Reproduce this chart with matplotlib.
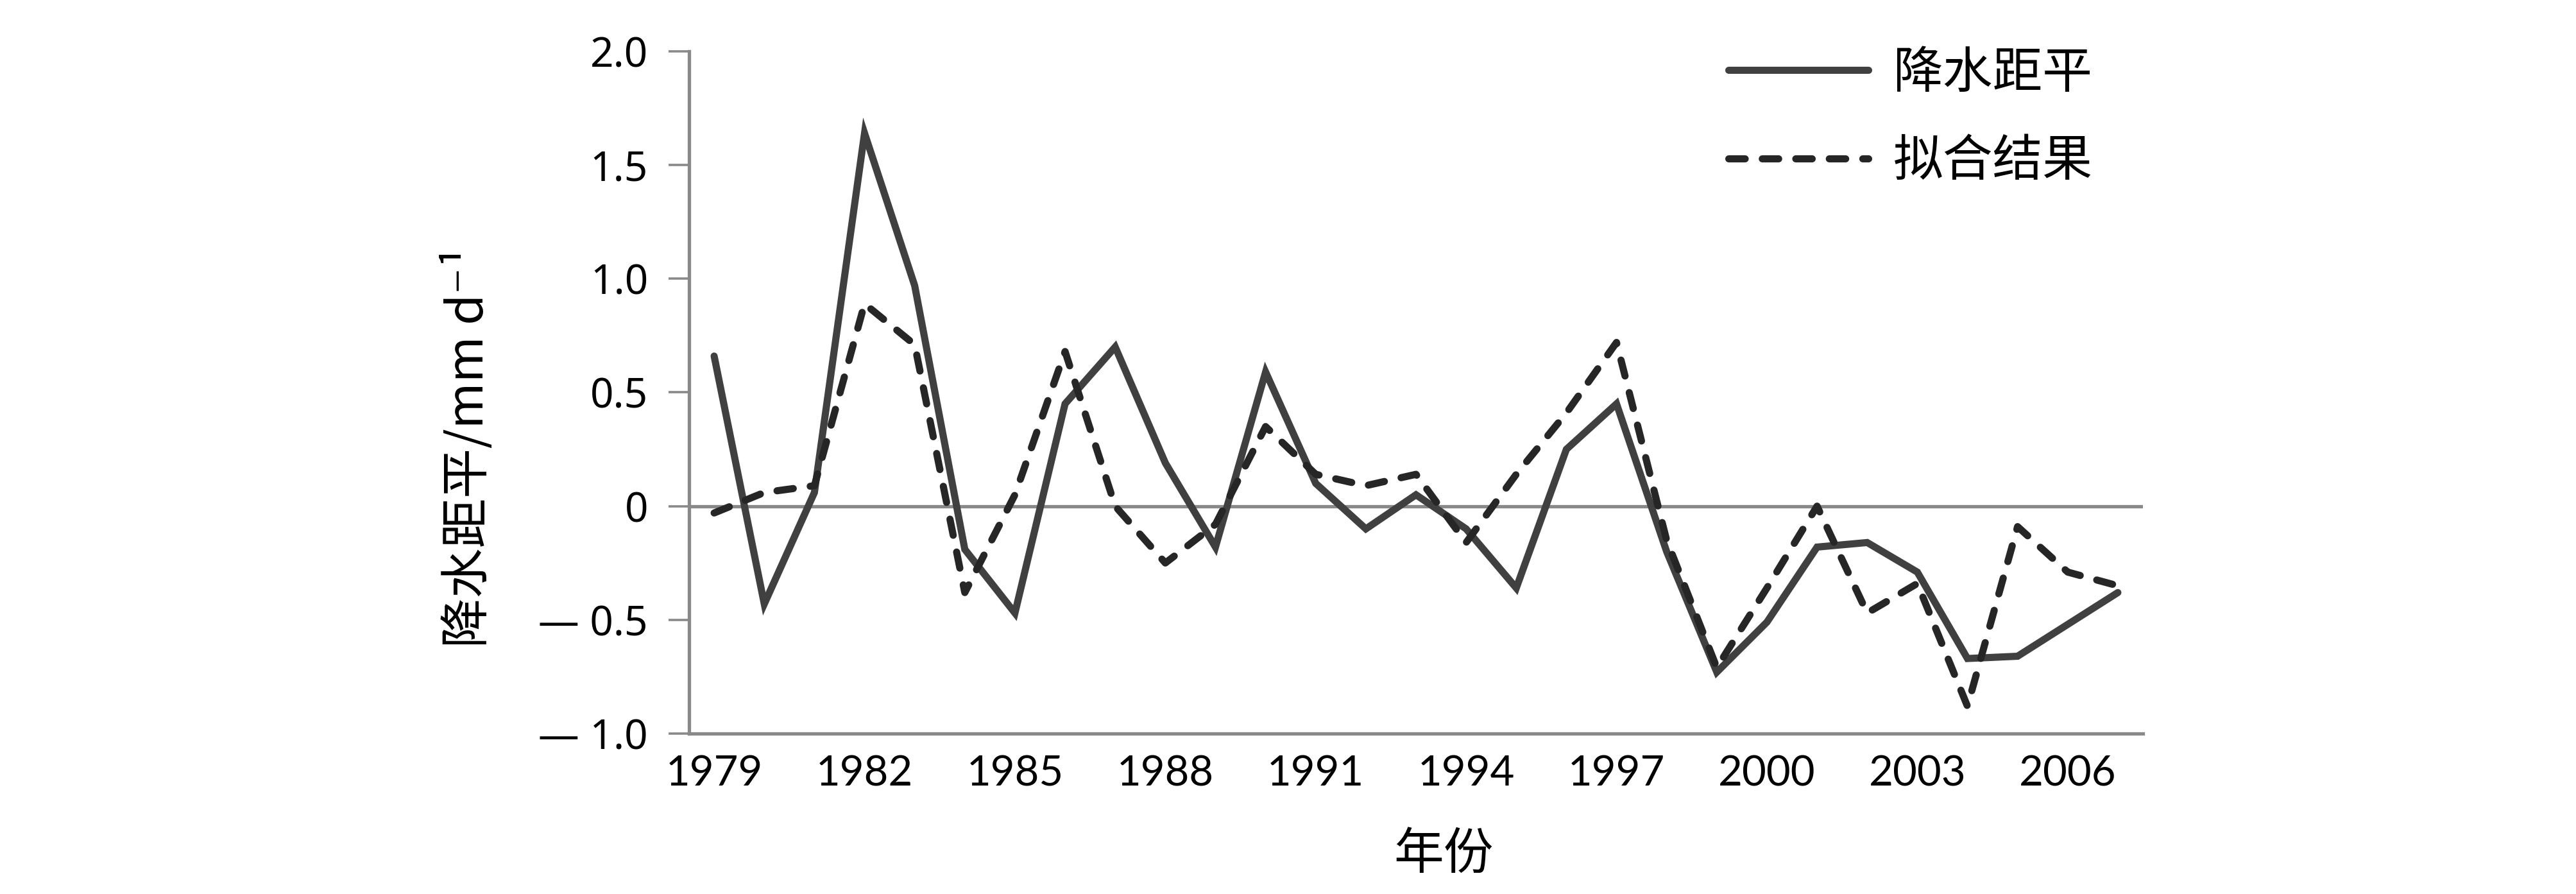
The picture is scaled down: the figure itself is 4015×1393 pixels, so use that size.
import numpy as np
import matplotlib
matplotlib.use("Agg")
import matplotlib.pyplot as plt

# data
years = np.arange(1979, 2008)
anomaly = [0.66, -0.43, 0.06, 1.64, 0.97, -0.19, -0.47, 0.45, 0.70, 0.19,
           -0.18, 0.59, 0.10, -0.10, 0.05, -0.10, -0.36, 0.25, 0.45, -0.20,
           -0.73, -0.51, -0.18, -0.16, -0.29, -0.67, -0.66, -0.52, -0.38]
fitted = [-0.03, 0.06, 0.09, 0.89, 0.71, -0.38, 0.05, 0.68, 0.00, -0.25,
          -0.08, 0.35, 0.14, 0.09, 0.14, -0.16, 0.14, 0.41, 0.72, -0.15,
          -0.71, -0.36, 0.00, -0.47, -0.34, -0.88, -0.09, -0.29, -0.35]
xtick_years = list(range(1979, 2007, 3))
yticks = [2.0, 1.5, 1.0, 0.5, 0, -0.5, -1.0]
ytick_labels = ["2.0", "1.5", "1.0", "0.5", "0", "\u2014 0.5", "\u2014 1.0"]
series_names = ["降水距平", "拟合结果"]

cjk = ["Noto Sans CJK SC", "DejaVu Sans"]
gray = "#898989"

fig = plt.figure(figsize=(40.16, 13.93), dpi=100)
ax = fig.add_axes([1074 / 4016, 1 - 1143 / 1393, 2266 / 4016, 1063 / 1393])

ax.axhline(0, color=gray, linewidth=3.8, zorder=1)
ax.plot(years, anomaly, color="#404040", linewidth=8,
        solid_joinstyle="miter", solid_capstyle="round", label=series_names[0], zorder=3)
ax.plot(years, fitted, color="#262626", linewidth=8, linestyle=(0, (2.3, 2.4)),
        dash_capstyle="round", label=series_names[1], zorder=4)

ax.set_xlim(1978.5, 2007.5)
ax.set_ylim(-1.0, 2.0)

for side in ["top", "right"]:
    ax.spines[side].set_visible(False)
for side in ["left", "bottom"]:
    ax.spines[side].set_color(gray)
    ax.spines[side].set_linewidth(3.8)

ax.set_xticks(xtick_years)
ax.set_xticklabels([str(y) for y in xtick_years], family="Lato", fontsize=47)
ax.tick_params(axis="x", length=0, pad=24)

ax.set_yticks(yticks)
ax.set_yticklabels(ytick_labels, family=["Noto Sans", "DejaVu Sans"], fontsize=46)
ax.tick_params(axis="y", length=23, width=2.6, color=gray, pad=23)

fig.text(730 / 4016, 1 - 697 / 1393, "降水距平/mm d\u207b\u00b9", rotation=90,
         ha="center", va="center", family=cjk, fontsize=56)
fig.text(2250 / 4016, 1 - 1332 / 1393, "年份", ha="center", va="center",
         family=cjk, fontsize=56)

leg = ax.legend(loc="upper left", bbox_to_anchor=(2694 / 4016, 1 - 75 / 1393),
                bbox_transform=fig.transFigure, frameon=False,
                prop={"family": cjk, "size": 56}, handlelength=2.8,
                handletextpad=0.5, borderpad=0, borderaxespad=0, labelspacing=0.75)

fig.savefig("out.png", dpi=100)
